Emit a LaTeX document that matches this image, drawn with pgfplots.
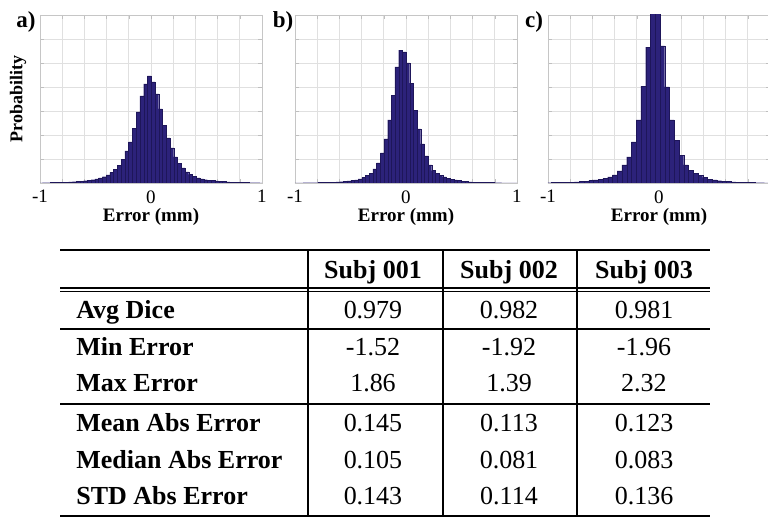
\documentclass[border=0pt]{standalone}
\usepackage{fontspec}
\setmainfont{Liberation Serif}
\usepackage{pgfplots}
\pgfplotsset{compat=1.18}

\definecolor{histfill}{RGB}{44,34,122}
\definecolor{histedge}{RGB}{30,22,90}

\pgfplotsset{
  errhist/.style={
    scale only axis, width=111pt, height=84pt,
    xmin=-1, xmax=1, ymin=0, ymax=0.14,
    xtick={-1,-0.8,-0.6,-0.4,-0.2,0,0.2,0.4,0.6,0.8,1},
    xticklabels={-1,,,,,0,,,,,1},
    ytick={0,0.02,0.04,0.06,0.08,0.1,0.12,0.14}, yticklabels={},
    grid=major, major grid style={draw=gray!24, line width=0.4pt},
    axis line style={draw=gray!45}, tick style={draw=gray!50},
    tick align=inside, major tick length=2pt,
    xticklabel style={inner sep=1pt, yshift=-2.5pt, font=\fontsize{9.5}{11}\selectfont},
    xlabel={Error (mm)},
    xlabel style={at={(axis description cs:0.5,-0.202)}, anchor=center,
                  font=\bfseries\fontsize{9.5}{11}\selectfont},
    x tick label as interval=false,
  },
  histbars/.style={ybar interval, fill=histfill, draw=histedge, line width=0.1pt},
}

\begin{document}
\begin{tikzpicture}

% a) Subj 001
\begin{axis}[errhist, at={(20pt,167.5pt)}, anchor=south west,
    ylabel={Probability},
    ylabel style={at={(axis description cs:-0.099,0.5)}, anchor=center,
                  font=\bfseries\fontsize{9}{10}\selectfont}]
\addplot[histbars] coordinates {
 (-1.013,0.0002) (-0.9792,0.00025) (-0.9454,0.0003) (-0.9116,0.0004) (-0.8778,0.0005)
 (-0.844,0.0005) (-0.8102,0.0007) (-0.7764,0.0008) (-0.7426,0.0010) (-0.7088,0.0011)
 (-0.675,0.0013) (-0.6412,0.0016) (-0.6074,0.0019) (-0.5736,0.0023) (-0.5398,0.0028)
 (-0.506,0.0035) (-0.4722,0.0043) (-0.4384,0.0053) (-0.4046,0.0067) (-0.3708,0.0088)
 (-0.337,0.0113) (-0.3032,0.0146) (-0.2694,0.0196) (-0.2356,0.0267) (-0.2018,0.0342)
 (-0.168,0.0458) (-0.1342,0.0592) (-0.1004,0.0725) (-0.0666,0.0825) (-0.0328,0.0892)
 (0.001,0.0842) (0.0348,0.0742) (0.0686,0.0617) (0.1024,0.0483) (0.1362,0.0375)
 (0.17,0.0292) (0.2038,0.0217) (0.2376,0.0163) (0.2714,0.0125) (0.3052,0.0092)
 (0.339,0.0071) (0.3728,0.0055) (0.4066,0.0043) (0.4404,0.0035) (0.4742,0.0028)
 (0.508,0.0023) (0.5418,0.0020) (0.5756,0.0017) (0.6094,0.0014) (0.6432,0.0012)
 (0.677,0.0010) (0.7108,0.0008) (0.7446,0.0007) (0.7784,0.0006) (0.8122,0.0005)
 (0.846,0.0004) (0.8798,0.0003) (0.9136,0.0003) (0.9474,0.00025) (0.9812,0.0002)
 (1.015,0.0002)
};
\end{axis}

% b) Subj 002
\begin{axis}[errhist, at={(147.5pt,167.5pt)}, anchor=south west]
\addplot[histbars] coordinates {
 (-1.0263,0.0002) (-0.9932,0.0002) (-0.9601,0.0002) (-0.927,0.00025) (-0.8939,0.00025)
 (-0.8608,0.0003) (-0.8277,0.0003) (-0.7946,0.0004) (-0.7615,0.0005) (-0.7284,0.0006)
 (-0.6953,0.0007) (-0.6622,0.00075) (-0.6291,0.0009) (-0.596,0.0011) (-0.5629,0.0013)
 (-0.5298,0.0017) (-0.4967,0.0021) (-0.4636,0.0027) (-0.4305,0.0035) (-0.3974,0.0046)
 (-0.3643,0.0063) (-0.3312,0.0083) (-0.2981,0.0117) (-0.265,0.0167) (-0.2319,0.0250)
 (-0.1988,0.0367) (-0.1657,0.0525) (-0.1326,0.0733) (-0.0995,0.0967) (-0.0664,0.1108)
 (-0.0333,0.1092) (-0.0002,0.1000) (0.0329,0.0833) (0.066,0.0608) (0.0991,0.0450)
 (0.1322,0.0325) (0.1653,0.0225) (0.1984,0.0150) (0.2315,0.0104) (0.2646,0.0079)
 (0.2977,0.0063) (0.3308,0.0050) (0.3639,0.0040) (0.397,0.0032) (0.4301,0.0025)
 (0.4632,0.0020) (0.4963,0.0016) (0.5294,0.0013) (0.5625,0.0010) (0.5956,0.0008)
 (0.6287,0.0007) (0.6618,0.00055) (0.6949,0.00045) (0.728,0.0004) (0.7611,0.00035)
 (0.7942,0.0003) (0.8273,0.00025) (0.8604,0.0002) (0.8935,0.0002) (0.9266,0.00015)
 (0.9597,0.00015) (0.9928,0.0001) (1.0259,0.0001)
};
\end{axis}

% c) Subj 003 -- its right end runs past the picture's edge, as in the reference
\begin{axis}[errhist, at={(274pt,167.5pt)}, anchor=south west,
    xticklabels={-1,,,,,0,,,,,}]
\addplot[histbars] coordinates {
 (-1.0184,0.0003) (-0.9756,0.00035) (-0.9328,0.0004) (-0.89,0.0005) (-0.8472,0.00065)
 (-0.8044,0.0008) (-0.7616,0.0010) (-0.7188,0.00125) (-0.676,0.0016) (-0.6332,0.0020)
 (-0.5904,0.0025) (-0.5476,0.0031) (-0.5048,0.0039) (-0.462,0.0050) (-0.4192,0.0067)
 (-0.3764,0.0100) (-0.3336,0.0150) (-0.2908,0.0217) (-0.248,0.0342) (-0.2052,0.0525)
 (-0.1624,0.0808) (-0.1196,0.1133) (-0.0768,0.1580) (-0.034,0.1620) (0.0088,0.1142)
 (0.0516,0.0800) (0.0944,0.0525) (0.1372,0.0358) (0.18,0.0233) (0.2228,0.0150)
 (0.2656,0.0108) (0.3084,0.0083) (0.3512,0.0063) (0.394,0.0046) (0.4368,0.0033)
 (0.4796,0.0025) (0.5224,0.0019) (0.5652,0.0015) (0.608,0.0012) (0.6508,0.0009)
 (0.6936,0.00075) (0.7364,0.0006) (0.7792,0.00045) (0.822,0.0004) (0.8648,0.0003)
 (0.9076,0.00025) (0.9504,0.0002) (0.9932,0.00017) (1.036,0.00017)
};
\end{axis}

% panel letters and the summary table, in pixel units of the reference
\begin{scope}[x=0.5pt, y=-0.5pt, yshift=259pt]
  \node[font=\bfseries\fontsize{11.5}{13}\selectfont] at (26,22) {a)};
  \node[font=\bfseries\fontsize{11.5}{13}\selectfont] at (283,21.5) {b)};
  \node[font=\bfseries\fontsize{11.5}{13}\selectfont] at (534,22) {c)};

  \draw[line width=1pt] (60,250) -- (710,250);
  \draw[line width=0.7pt] (60,288) -- (710,288);
  \draw[line width=0.7pt] (60,291.5) -- (710,291.5);
  \draw[line width=0.6pt] (60,329) -- (710,329);
  \draw[line width=0.6pt] (60,404) -- (710,404);
  \draw[line width=1pt] (60,516) -- (710,516);
  \foreach \vx in {308,443,577} \draw[line width=0.6pt] (\vx,250) -- (\vx,516);

  \foreach \cx/\t in {373/Subj 001, 509/Subj 002, 644/Subj 003}
    \node[anchor=base, font=\bfseries\fontsize{13}{15}\selectfont] at (\cx,278.5) {\t};

  \foreach \by/\lab/\va/\vb/\vc in {
      318.5/Avg Dice/0.979/0.982/0.981,
      355.5/Min Error/-1.52/-1.92/-1.96,
      391.5/Max Error/1.86/1.39/2.32,
      431.5/Mean Abs Error/0.145/0.113/0.123,
      468.5/Median Abs Error/0.105/0.081/0.083,
      504.5/STD Abs Error/0.143/0.114/0.136} {
    \node[anchor=base west, font=\bfseries\fontsize{13}{15}\selectfont, inner sep=0pt] at (76,\by) {\lab};
    \node[anchor=base, font=\fontsize{13}{15}\selectfont] at (373,\by) {\va};
    \node[anchor=base, font=\fontsize{13}{15}\selectfont] at (509,\by) {\vb};
    \node[anchor=base, font=\fontsize{13}{15}\selectfont] at (644,\by) {\vc};
  }
\end{scope}

\pgfresetboundingbox
\useasboundingbox (0,0) rectangle (384pt,259pt);
\end{tikzpicture}
\end{document}
